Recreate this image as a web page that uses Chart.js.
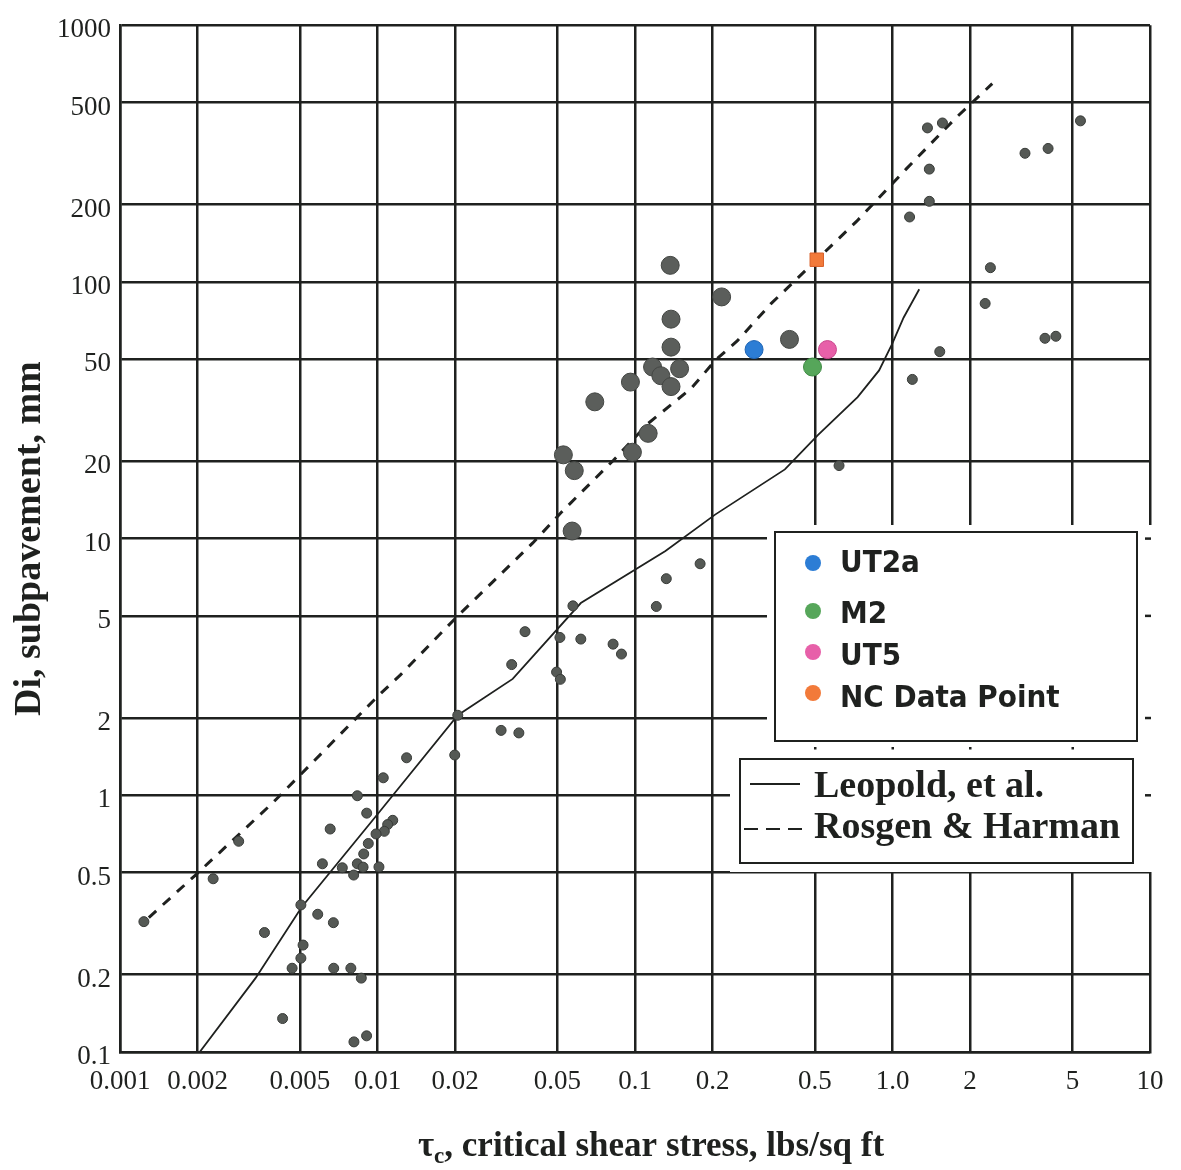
<!DOCTYPE html>
<html>
<head>
<meta charset="utf-8">
<title>Di subpavement vs critical shear stress</title>
<script src="https://cdn.jsdelivr.net/npm/chart.js@4.4.1/dist/chart.umd.min.js"></script>
<style>
  html, body { margin: 0; padding: 0; background: #fff; }
  #wrap { width: 1181px; height: 1170px; position: relative; }
</style>
</head>
<body>
<div id="wrap"><canvas id="chart"></canvas></div>
<script>
// --- Axis ticks ---
const xTicks = [0.001, 0.002, 0.005, 0.01, 0.02, 0.05, 0.1, 0.2, 0.5, 1, 2, 5, 10];
const xTickLabels = ['0.001', '0.002', '0.005', '0.01', '0.02', '0.05', '0.1', '0.2', '0.5', '1.0', '2', '5', '10'];
const yTicks = [0.1, 0.2, 0.5, 1, 2, 5, 10, 20, 50, 100, 200, 500, 1000];
const yTickLabels = ['0.1', '0.2', '0.5', '1', '2', '5', '10', '20', '50', '100', '200', '500', '1000'];

// --- Data, [tau_c lbs/sq ft, Di mm] ---
// large markers (gravel bed sites)
const coarsePts = [
  [0.137, 116], [0.217, 87.4], [0.138, 71.6], [0.138, 55.7], [0.398, 59.7],
  [0.117, 46.6], [0.149, 45.9], [0.126, 43.1], [0.138, 39.1], [0.096, 40.7],
  [0.0698, 34.1], [0.1125, 25.7], [0.0977, 21.7], [0.0527, 21.2], [0.0581, 18.4],
  [0.057, 10.7]
];
// small markers
const finePts = [
  [1.367, 398], [1.563, 416], [5.37, 424], [3.27, 317], [4.02, 331],
  [1.39, 275], [1.39, 206], [1.165, 179], [2.40, 113.6], [2.29, 82.4],
  [3.91, 60.3], [4.31, 61.4], [1.526, 53.5], [1.194, 41.7], [0.62, 19.25],
  [0.179, 7.98], [0.1323, 6.98], [0.121, 5.44], [0.0574, 5.47], [0.0374, 4.34],
  [0.0511, 4.12], [0.0616, 4.06], [0.0822, 3.88], [0.0886, 3.55], [0.0332, 3.23],
  [0.0496, 3.02], [0.0513, 2.83], [0.0205, 2.05], [0.0302, 1.79], [0.0354, 1.75],
  [0.01995, 1.435], [0.01297, 1.40],
  [0.01053, 1.17], [0.00835, 0.996], [0.00908, 0.852], [0.00655, 0.739], [0.01146, 0.799],
  [0.01095, 0.769], [0.01063, 0.724], [0.00987, 0.707], [0.00921, 0.649], [0.00884, 0.591],
  [0.00611, 0.541], [0.00835, 0.541], [0.00879, 0.525], [0.0073, 0.522], [0.01013, 0.526],
  [0.00808, 0.489], [0.00504, 0.374], [0.00586, 0.344], [0.00674, 0.319], [0.00364, 0.292],
  [0.00514, 0.261], [0.00504, 0.232], [0.00466, 0.212], [0.00676, 0.212], [0.00788, 0.212],
  [0.00865, 0.194], [0.00428, 0.135], [0.0081, 0.1095], [0.00907, 0.1156], [0.001238, 0.322],
  [0.00289, 0.662], [0.0023, 0.473]
];
const ut2aPts = [[0.290, 54.5]];
const m2Pts = [[0.489, 46.6]];
const ut5Pts = [[0.559, 54.5]];
const ncPts = [[0.508, 122]];

// reference curves
const leopoldCurve = [
  [0.00204, 0.1], [0.00336, 0.194], [0.00508, 0.367], [0.01002, 0.846], [0.0205, 2.05],
  [0.0335, 2.84], [0.0616, 5.61], [0.1313, 8.94], [0.2047, 12.4], [0.382, 18.6],
  [0.513, 25.3], [0.732, 35.6], [0.887, 45.2], [0.997, 57.3], [1.105, 72.7], [1.27, 93.6]
];
const rosgenCurve = [
  [0.001294, 0.334], [0.00196, 0.488], [0.00392, 0.935], [0.0101, 2.45], [0.01225, 2.94],
  [0.0205, 5.0], [0.0401, 9.62], [0.0522, 12.77], [0.0825, 20.2], [0.1125, 28.1],
  [0.165, 38.4], [0.206, 49.7], [0.25, 59.0], [0.336, 81.9], [0.508, 122],
  [0.725, 172], [1.129, 275], [1.517, 373], [1.761, 435], [2.44, 592]
];

const pointLegend = ['UT2a', 'M2', 'UT5', 'NC Data Point'];
const pointColors = ['#2c7dd5', '#56a65a', '#e760a9', '#f27a3a'];
const lineLegend = ['Leopold, et al.', 'Rosgen & Harman'];

const ink = '#1f211f';
const gridColor = '#1f211f';
const serif = '"Liberation Serif", "DejaVu Serif", serif';
const narrowSans = '"DejaVu Sans Condensed", "Liberation Sans Narrow", "DejaVu Sans", sans-serif';

const toXY = arr => arr.map(([x, y]) => ({ x, y }));

function dotSet(data, fill, edge, r, style = 'circle') {
  return {
    data: toXY(data), showLine: false, pointStyle: style,
    pointRadius: r, pointBackgroundColor: fill, pointBorderColor: edge, pointBorderWidth: 1
  };
}

function curveSet(data, dash, w) {
  return {
    data: toXY(data), showLine: true, pointRadius: 0, borderColor: ink,
    borderWidth: w, borderDash: dash, tension: 0, fill: false
  };
}

// white panels over the grid, the two legend boxes, grid stubs
const overlay = {
  id: 'overlay',
  beforeDatasetsDraw(chart) {
    const { ctx, chartArea, scales: { x, y } } = chart;
    ctx.save();
    ctx.fillStyle = '#fff';
    ctx.fillRect(767, 525, chartArea.right + 3 - 767, 872 - 525);
    ctx.fillRect(730, 750, chartArea.right + 3 - 730, 872 - 750);

    ctx.fillStyle = gridColor;
    [0.5, 1, 2, 5].forEach(v => ctx.fillRect(x.getPixelForValue(v) - 1, 747, 2.5, 2.5));
    ctx.strokeStyle = gridColor;
    ctx.lineWidth = 2.5;
    [10, 5, 2, 1].forEach(v => {
      const py = y.getPixelForValue(v);
      ctx.beginPath(); ctx.moveTo(chartArea.right - 5, py); ctx.lineTo(chartArea.right + 1, py); ctx.stroke();
    });

    // box with the site markers
    ctx.strokeStyle = ink;
    ctx.lineWidth = 2;
    ctx.strokeRect(775, 532, 362, 209);
    const rowY = [563, 611, 652, 693];
    const baseY = [572, 623, 665, 707];
    ctx.font = 'bold 31px ' + narrowSans;
    ctx.textBaseline = 'alphabetic';
    ctx.textAlign = 'left';
    pointLegend.forEach((name, i) => {
      ctx.beginPath();
      ctx.arc(813, rowY[i], 8, 0, Math.PI * 2);
      ctx.fillStyle = pointColors[i];
      ctx.fill();
      ctx.fillStyle = ink;
      ctx.fillText(name, 840, baseY[i]);
    });

    // box with the curve keys
    ctx.strokeRect(740, 759, 393, 104);
    ctx.beginPath(); ctx.moveTo(750, 784); ctx.lineTo(800, 784); ctx.stroke();
    ctx.setLineDash([14, 8]);
    ctx.beginPath(); ctx.moveTo(744, 829); ctx.lineTo(802, 829); ctx.stroke();
    ctx.setLineDash([]);
    ctx.font = 'bold 38px ' + serif;
    ctx.fillStyle = ink;
    ctx.fillText(lineLegend[0], 814, 797);
    ctx.fillText(lineLegend[1], 814, 838);
    ctx.restore();
  },
  afterDraw(chart) {
    // x axis title, tau with subscript c
    const { ctx, chartArea } = chart;
    const main = 'bold 35px ' + serif, sub = 'bold 23px ' + serif;
    const rest = ', critical shear stress, lbs/sq ft';
    ctx.save();
    ctx.fillStyle = ink;
    ctx.textBaseline = 'alphabetic';
    ctx.font = main; const wTau = ctx.measureText('τ').width, wRest = ctx.measureText(rest).width;
    ctx.font = sub; const wSub = ctx.measureText('c').width;
    const cx = (chartArea.left + chartArea.right) / 2 + 16;
    let px = cx - (wTau + wSub + wRest) / 2;
    const base = chart.height - 14;
    ctx.font = main; ctx.fillText('τ', px, base); px += wTau;
    ctx.font = sub; ctx.fillText('c', px, base + 7); px += wSub;
    ctx.font = main; ctx.fillText(rest, px, base);
    ctx.restore();
  }
};

const ctx = document.getElementById('chart').getContext('2d');
new Chart(ctx, {
  type: 'scatter',
  data: {
    datasets: [
      dotSet(ncPts, pointColors[3], '#d8602a', 9.5, 'rect'),
      dotSet(ut5Pts, pointColors[2], '#c9468c', 9),
      dotSet(m2Pts, pointColors[1], '#3f8a44', 9),
      dotSet(ut2aPts, pointColors[0], '#1d63b3', 9),
      dotSet(coarsePts, '#5b5e5b', '#434643', 9),
      dotSet(finePts, '#555955', '#383b38', 5),
      curveSet(leopoldCurve, [], 1.8),
      curveSet(rosgenCurve, [10, 9], 3)
    ]
  },
  options: {
    responsive: true,
    maintainAspectRatio: false,
    devicePixelRatio: 1,
    animation: false,
    layout: { padding: { top: 20, right: 31, left: 0, bottom: 0 } },
    plugins: { legend: { display: false }, tooltip: { enabled: false } },
    scales: {
      x: {
        type: 'logarithmic', min: 0.001, max: 10,
        afterBuildTicks: s => { s.ticks = xTicks.map(v => ({ value: v })); },
        afterFit: s => { s.height = 118; },
        grid: { color: gridColor, lineWidth: 2.5, drawTicks: false },
        border: { color: gridColor, width: 2.5 },
        ticks: {
          autoSkip: false, maxRotation: 0, padding: 14, color: ink,
          font: { family: serif, size: 27 },
          callback: (v, i) => xTickLabels[i]
        }
      },
      y: {
        type: 'logarithmic', min: 0.1, max: 1000,
        afterBuildTicks: s => { s.ticks = yTicks.map(v => ({ value: v })); },
        afterFit: s => { s.width = 120; },
        grid: { color: gridColor, lineWidth: 2.5, drawTicks: false },
        border: { color: gridColor, width: 2.5 },
        title: {
          display: true, text: 'Di, subpavement, mm', color: ink,
          font: { family: serif, size: 38, weight: 'bold' },
          padding: { top: 7, bottom: 0 }
        },
        ticks: {
          autoSkip: false, padding: 9, color: ink, labelOffset: 5,
          font: { family: serif, size: 27 },
          callback: (v, i) => yTickLabels[i]
        }
      }
    }
  },
  plugins: [overlay]
});
</script>
</body>
</html>
